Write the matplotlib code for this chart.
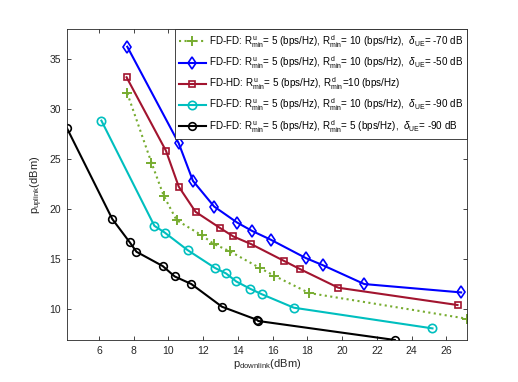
import matplotlib
matplotlib.use("Agg")
import matplotlib.pyplot as plt

plt.rcParams['font.family'] = ['Liberation Sans', 'DejaVu Sans']
plt.rcParams['mathtext.fontset'] = 'custom'
plt.rcParams['mathtext.rm'] = 'Liberation Sans'
plt.rcParams['mathtext.it'] = 'Liberation Sans:italic'
plt.rcParams['mathtext.bf'] = 'Liberation Sans:bold'

# --- data (p_downlink, p_uplink in dBm) ---
green_x = [7.63, 9.02, 9.73, 10.47, 11.93, 12.60, 13.55, 15.27, 16.09, 18.10, 27.18]
green_y = [31.57, 24.63, 21.30, 18.87, 17.33, 16.50, 15.73, 14.07, 13.30, 11.57, 9.00]

blue_x = [7.63, 10.59, 11.41, 12.63, 13.95, 14.80, 15.90, 17.91, 18.87, 21.27, 26.85]
blue_y = [36.23, 26.57, 22.80, 20.23, 18.63, 17.80, 16.90, 15.07, 14.37, 12.47, 11.63]

red_x = [7.59, 9.86, 10.59, 11.56, 12.98, 13.74, 14.76, 16.67, 17.57, 19.78, 26.64]
red_y = [33.17, 25.80, 22.23, 19.70, 18.07, 17.23, 16.47, 14.77, 13.97, 12.10, 10.37]

cyan_x = [6.14, 9.19, 9.78, 11.10, 12.69, 13.32, 13.90, 14.70, 15.40, 17.22, 25.20]
cyan_y = [28.83, 18.30, 17.63, 15.87, 14.07, 13.53, 12.73, 12.00, 11.43, 10.10, 8.03]

black_x = [4.15, 6.77, 7.78, 8.16, 9.67, 10.36, 11.32, 13.08, 15.08, 15.17, 23.03]
black_y = [28.10, 18.97, 16.63, 15.70, 14.27, 13.23, 12.47, 10.20, 8.90, 8.77, 6.87]

R = r'$\mathregular{R^{\,u}_{min}}$'
Rd = r'$\mathregular{R^{\,d}_{min}}$'
dUE = r'$\delta_{\mathregular{UE}}$'
labels = [
    'FD-FD: ' + R + '= 5 (bps/Hz), ' + Rd + '= 10 (bps/Hz),  ' + dUE + '= -70 dB',
    'FD-FD: ' + R + '= 5 (bps/Hz), ' + Rd + '= 10 (bps/Hz),  ' + dUE + '= -50 dB',
    'FD-HD: ' + R + '= 5 (bps/Hz), ' + Rd + '=10 (bps/Hz)',
    'FD-FD: ' + R + '= 5 (bps/Hz), ' + Rd + '= 10 (bps/Hz),  ' + dUE + '= -90 dB',
    'FD-FD: ' + R + '= 5 (bps/Hz), ' + Rd + '= 5 (bps/Hz),  ' + dUE + '= -90 dB',
]

c_green = (0.466, 0.674, 0.188)
c_blue = (0.0, 0.0, 1.0)
c_red = (0.635, 0.078, 0.184)
c_cyan = (0.0, 0.75, 0.75)
c_black = (0.0, 0.0, 0.0)

fig = plt.figure(figsize=(5.18, 3.82), dpi=100)
ax = fig.add_axes([0.129, 0.11, 0.773, 0.814])

lw = 1.5
ax.plot(green_x, green_y, ':', color=c_green, lw=lw, marker='+', ms=6.5, mew=1.4, label=labels[0])
ax.plot(blue_x, blue_y, '-', color=c_blue, lw=lw, marker='d', ms=6.5, mew=1.2, mfc='none', label=labels[1])
ax.plot(red_x, red_y, '-', color=c_red, lw=lw, marker='s', ms=5, mew=1.2, mfc='none', label=labels[2])
ax.plot(cyan_x, cyan_y, '-', color=c_cyan, lw=lw, marker='o', ms=6, mew=1.2, mfc='none', label=labels[3])
ax.plot(black_x, black_y, '-', color=c_black, lw=lw, marker='o', ms=5.5, mew=1.2, mfc='none', label=labels[4])

ax.set_xlim(4.15, 27.2)
ax.set_ylim(6.87, 38)
ax.set_xticks(range(6, 27, 2))
ax.set_yticks(range(10, 36, 5))

axis_col = (0.15, 0.15, 0.15)
for s in ax.spines.values():
    s.set_color(axis_col)
    s.set_linewidth(0.6)
ax.tick_params(direction='in', top=True, right=True, length=3, width=0.6,
               colors=axis_col, labelsize=7.5, pad=4)

ax.set_xlabel(r'$\mathregular{p_{downlink}}$(dBm)', fontsize=8, color=axis_col, labelpad=1)
ax.set_ylabel(r'$\mathregular{p_{uplink}}$(dBm)', fontsize=8, color=axis_col, labelpad=3)

leg = ax.legend(loc='upper right', borderaxespad=0, fontsize=7.1, numpoints=1,
                handlelength=2.8, handletextpad=0.3, labelspacing=0.45,
                borderpad=0.4, fancybox=False, framealpha=1)
leg.get_frame().set_edgecolor(axis_col)
leg.get_frame().set_linewidth(0.6)

fig.savefig('out.png', dpi=100)
